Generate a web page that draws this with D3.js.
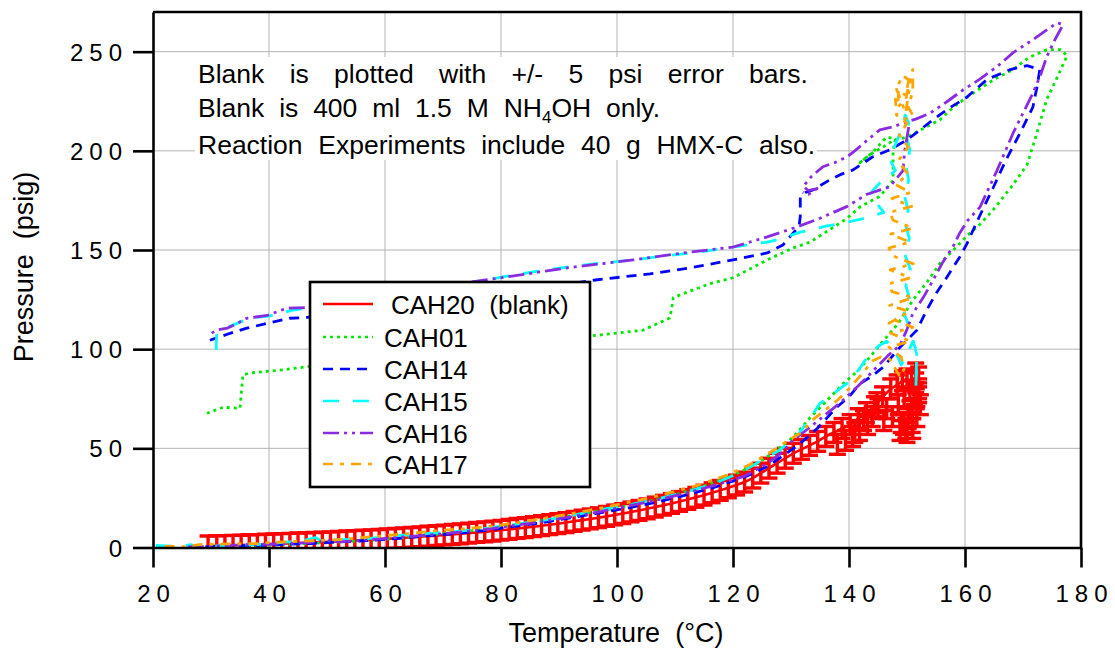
<!DOCTYPE html>
<html><head><meta charset="utf-8">
<script src="https://cdn.jsdelivr.net/npm/d3@7"></script>
<style>
body{margin:0;background:#fff}
svg{display:block}
text{font-family:"Liberation Sans",Arial,Helvetica,sans-serif;fill:#000}
</style>
</head><body>
<svg id="chart" width="1115" height="653"></svg>
<script>
// ---------- data ----------
const xTicks = [20, 40, 60, 80, 100, 120, 140, 160, 180];
const yTicks = [0, 50, 100, 150, 200, 250];
const xGrid = [40, 60, 80, 100, 120, 140, 160];
const yGrid = [50, 100, 150, 200, 250];
const seriesNames = ["CAH20  (blank)", "CAH01", "CAH14", "CAH15", "CAH16", "CAH17"];
const seriesColors = ["#ff0000", "#00e600", "#0000ff", "#00ffff", "#8a2be2", "#ffa500"];
const notes = [
  "Blank is plotted with +/- 5 psi error bars.",
  "Blank is 400 ml 1.5 M NH|4|OH only.",
  "Reaction Experiments include 40 g HMX-C also."
];
const blankError = 5;

// CAH20 blank (temperature °C, pressure psig)
const blankT = [29.5,31,32.4,33.8,35.2,36.6,38,39.4,40.8,42.2,43.6,45,46.4,47.8,49.2,50.6,52,53.4,54.8,56.2,
  57.6,59,60.4,61.8,63.2,64.6,66,67.4,68.8,70.2,71.6,73,74.4,75.8,77.2,78.6,80,81.4,82.8,84.2,
  85.6,87,88.4,89.8,91.2,92.6,94,95.4,96.8,98.2,99.6,101,102.4,103.8,105.2,106.6,108,109.4,110.8,112.2,
  113.6,115,116.4,117.8,119.2,120.6,122,123.4,124.8,126.2,127.6,129,130.4,131.8,133.2,134.6,136,137.4,138.8,140.2,
  141.6,143,144.4,145.8,147.2,148.3,149.2,150,150.8,151.5,152,151.6,150.9,150.2,149.4,148.8,149.8,150.9,151.7,152.3,
  151.3,139.4,140.6,141.8,143.2,138,141,142.5,144,145,146,146.5,147.5,148.5,149.5,150.5,151.5,152,151,150,149,152,144.8];
const blankP = [0.8,0.9,1.0,1.1,1.2,1.4,1.5,1.7,1.8,2.0,2.1,2.3,2.4,2.6,2.7,2.9,3.1,3.3,3.5,3.7,
  3.9,4.1,4.4,4.6,4.9,5.1,5.4,5.7,6.0,6.3,6.6,6.9,7.2,7.6,7.9,8.3,8.7,9.1,9.6,10,
  10.5,11,11.5,12,12.6,13.2,13.8,14.4,15,15.7,16.4,17.1,17.9,18.7,19.5,20.4,21.3,22.2,23.2,24.2,
  25.3,26.4,27.6,28.8,30.1,31.5,33,35,37.5,40,42.5,45,47.5,49.5,51.5,53.5,56,58,60,62,
  65,68,71,76,80,82,84,85,84,83,80,75,70,65,62,59,60,63,66,72,
  77,54,56,59,62,52,58,64,66,70,64,70,66,72,76,79,88,86,60,58,63,78,73];

// CAH01 (green dotted)
const cah01 = [[35,0.3],[40,1.2],[45,1.8],[50,2.5],[55,3.2],[60,4.2],[65,5.5],[70,7],[75,8.5],[80,10.5],
  [85,12.5],[90,15],[95,17.5],[100,20],[105,23],[110,26.5],[115,31],[120,36.5],[124,42],[127.5,49],
  [130.5,56],[133.3,65.5],[136,73.5],[139,82.6],[141.5,89],[143.6,96],[146,104.5],[148.5,113],[151,124.7],[153.5,134],
  [155.7,143.4],[158,150],[160.3,157],[162.6,163],[164.8,170],[168.3,183],[170.7,193],[172.4,209],[174.1,226],[175.9,237],
  [177.6,248],[176.5,251],[174.1,251],[171,247],[168.3,241],[165,236],[160.3,227],[158,222],[155.7,215.7],[152,210],
  [150,207],[147.5,205],[145.9,202],[143.5,198],[141.9,194],[144,199],[146.5,207],[148,206],[147.6,200],[147.6,185],
  [145.3,177],[142,172],[139.7,166],[136,159],[133.3,154],[130.3,151],[125.9,145],[120,136],[116,133],[111.4,128],
  [109.7,126],[109.4,120],[109.1,115.7],[104.5,109.6],[96.6,107],[85,104],[70,99],[58,95],[46.2,91],[41.9,89.4],
  [36.7,88],[35.5,87],[35,70.2],[32.1,70.7],[29.3,67.7]];

// CAH14 (blue dashed)
const cah14 = [[29,0.3],[33,0.8],[38,1],[42,1.5],[47,2],[52,2.8],[57,3.5],[62,4.5],[67,5.8],[72,7],
  [77,8.5],[82,10.5],[87,12.5],[92,15],[97,17.5],[102,20],[107,23],[112,26.5],[117,30.5],[122,35.5],
  [126,41],[129,47],[131.6,52.5],[134.5,60],[137.9,70.7],[140,76],[141.9,82.6],[144,86.5],[145.9,91],[148.8,101],
  [150.5,106],[151.7,109.6],[153.4,119.7],[155,128],[156.9,136.4],[159.1,146.5],[160.3,153],[162.5,167],[164.8,181],[167,195],
  [169.5,209],[171.7,222],[172.4,232],[172.9,241],[170.7,243],[167.8,241],[163.8,236],[160.3,227],[157,221],[154.5,215.7],
  [152,210],[150,205.6],[147,200.5],[144.1,197],[140.7,190.4],[138.5,188],[136.7,185.4],[133.8,180.3],[132.5,179],[131.6,177],
  [131.6,167],[131.4,162],[129.8,156.6],[128.6,152.5],[125.9,148.5],[120,145],[112.6,141],[105.7,138],[96.6,135],[85,130],
  [70,125],[55,119],[46.6,116],[43.6,115.6],[39.7,113],[36.2,110.6],[33.3,108],[29.8,104.5]];

// CAH15 (cyan long dash)
const cah15 = [[20.5,1],[22,0.8],[25,0.5],[26.5,1.5],[27.5,0.5],[30,0.7],[34,1.2],[38,1.5],[42,2.5],[46,3.5],
  [48,5],[49,3.5],[53,4],[57,4.5],[62,6],[67,7],[72,8],[77,9.5],[82,11.5],[87,13.5],
  [92,16],[97,19],[102,21.5],[107,24.5],[112,28],[117,32.5],[121,37.5],[125,44],[128,49],[131,56],
  [133,64],[135,72.7],[137.5,78],[140.2,84],[142,91],[143.6,98],[145.3,102],[146.5,104],[148,99],[149,92],
  [150,97],[151,104],[151.7,99],[151.5,80],[151.8,96],[151,105],[150.3,112],[149.5,118],[150.5,125],[149.8,132],
  [150.6,140],[149.6,148],[150.4,156],[149.7,163],[150.2,170],[149.5,178],[150.3,185],[149.8,193],[150.5,200],[149.9,208],
  [150.3,214],[149.7,218],[148.8,209],[147,196],[148,190],[145.7,185],[143.5,178],[146,169],[144,167],[139.7,164],
  [136,162],[133.3,160],[131.6,159],[128,155.5],[125.9,154],[120,151.5],[114.3,149],[108,147],[102.8,145],[94.1,142.4],
  [85.5,139],[80.3,136.4],[70,131],[60,126],[50,122],[44.1,119.7],[40.7,117],[36.7,115.6],[32.8,111],[31,108],
  [30.9,103],[30.9,96]];

// CAH16 (purple dash-dot-dot), null = gap
const cah16 = [[26,0.3],[30,0.5],[34,1.2],[38,1.5],[42,1.8],[47,2.5],[50,3.5],[52,2.8],[57,3.8],[62,5],
  [67,6.2],[72,7.5],[77,9],[82,11],[87,13],[92,15.5],[97,18],[102,21],[107,24],[112,27.5],
  [117,31.5],[122,36],[126,42.5],[128.5,48],[130.3,54],[133,60],[136.2,67.6],[138.5,73],[140.7,79],[142.8,85],
  [144.8,91],[146.8,97],[148.8,102],[150,110],[151,118],[152.8,126],[154.5,134.8],[156.2,144],[157.9,151.5],[159.1,158.6],
  [160.5,165],[162.6,171.7],[165.5,190],[168.3,209],[170,219],[171.7,229],[173,238],[174.1,247.5],[175.5,256],[176.9,263.6],
  [175.9,264.6],[174.1,261],[171.7,256],[168.3,249.5],[165.5,242.4],[162.5,236],[159.7,230.8],[157,225],[154,219],[151.5,216],
  [149.3,214],[147.5,212],[145.3,210.6],[143,205],[141,200],[139.7,197],[137.5,194],[135.5,192],[133.5,187],[132.1,182],
  [133,180],[134.5,181],[133,178],[132,179],null,
  [150.3,212],[149.6,200],[149.3,190],[147,181.8],[143,178],[139.7,172],[135,166],[131,161.6],[125.9,156.6],[120,151.5],
  [111.4,148.5],[102.8,145],[91.4,141],[81,136.4],[70,132],[60,128],[50,123],[46.6,121],[43.1,120.7],[39.7,117],
  [36.2,115.6],[34.5,113],[32.8,110.6],[31,109.6],[29.5,107]];

// CAH17 (orange dash-dot)
const cah17 = [[22,0.5],[24,0.5],[25.5,0.3],[28,1.5],[33,1.8],[38,2],[40,2.5],[44,3],[48,3.5],[52,4],
  [56,5],[60,6],[64,7],[69,8.5],[74,9.5],[79,11],[84,13],[89,15.5],[94,18],[99,21],
  [104,24],[109,27.5],[114,31.5],[119,36.5],[123,42],[127,49],[129.5,54],[131.6,57.6],[134,65],[137.9,74],
  [140,80],[142.4,88],[144,94],[145.5,96],[147,95],[148.2,89],[148.8,86],[149.5,90],[149,96],[146.9,101],
  [150.6,104],[147.2,108],[151,111],[147.6,115],[146.9,113],[150.4,119],[147,122],[151,126],[147.4,129],[146.9,133],
  [150.6,136],[147.1,140],[151.1,143],[147.6,147],[146.9,151],[150.5,154],[147.2,158],[151,161],[147.6,165],[147,169],
  [150.8,172],[147.4,176],[150.6,179],[148,183],[150.2,188],[148.5,195],[150.2,202],[148.7,208],[150,214],[148.2,218],
  [148,226],[149.4,222],[148.2,231],[149.8,228],[150.3,236],[151,241],[151,230],[150.2,222],[151,218],[149.6,216],
  [150.6,235],[149.3,238],[148.6,234],[148.4,222],[149.8,226],[150.8,240]];

const lineSeries = [cah01, cah14, cah15, cah16, cah17];
const lineDashes = ["3,4", "10,7", "16,14", "16,5,3,5,3,5", "10,7,4,7"];

// ---------- layout ----------
const svg = d3.select("#chart");
const x = d3.scaleLinear().domain([20, 180]).range([153, 1081]);
const y = d3.scaleLinear().domain([0, 270]).range([547.5, 12]);
const FONT = '"Liberation Sans",Arial,sans-serif';

// grid
const grid = svg.append("g").attr("stroke", "#b4b4b4").attr("stroke-width", 1);
grid.selectAll("line.gx").data(xGrid).join("line")
  .attr("x1", d => x(d)).attr("x2", d => x(d)).attr("y1", y(270)).attr("y2", y(0));
grid.selectAll("line.gy").data(yGrid).join("line")
  .attr("y1", d => y(d)).attr("y2", d => y(d)).attr("x1", x(20)).attr("x2", x(180));

// white box behind the notes
svg.append("rect").attr("x", 195).attr("y", 57).attr("width", 622).attr("height", 103).attr("fill", "#fff");

// clip
svg.append("defs").append("clipPath").attr("id", "plotclip").append("rect")
  .attr("x", x(20)).attr("y", y(270)).attr("width", x(180) - x(20)).attr("height", y(0) - y(270));
const plot = svg.append("g").attr("clip-path", "url(#plotclip)");

// blank with error bars
const blank = blankT.map((t, i) => ({t, p: blankP[i]}));
const eb = plot.append("g").attr("stroke", seriesColors[0]).attr("stroke-width", 3.4).attr("fill", "none");
const capW = 8.5;
blank.forEach(d => {
  const cx = x(d.t), yt = y(d.p + blankError), yb = y(d.p - blankError);
  eb.append("line").attr("x1", cx).attr("x2", cx).attr("y1", yt).attr("y2", yb);
  eb.append("line").attr("x1", cx - capW).attr("x2", cx + capW).attr("y1", yt).attr("y2", yt);
  eb.append("line").attr("x1", cx - capW).attr("x2", cx + capW).attr("y1", yb).attr("y2", yb);
});
eb.append("path").attr("stroke-width", 2.6).attr("d", d3.line().x(d => x(d.t)).y(d => y(d.p))(blank.slice(0, 95)));

// experiment lines
const line = d3.line().defined(d => d !== null).x(d => x(d[0])).y(d => y(d[1]));
lineSeries.forEach((s, i) => {
  plot.append("path").attr("d", line(s)).attr("fill", "none")
    .attr("stroke", seriesColors[i + 1]).attr("stroke-width", 2.8)
    .attr("stroke-dasharray", lineDashes[i]).attr("stroke-linejoin", "round");
});

// axes
const LS = 6;
const xAxis = svg.append("g").attr("transform", `translate(0,${y(0)})`)
  .call(d3.axisBottom(x).tickValues(xTicks).tickSize(20).tickSizeOuter(0).tickFormat(d3.format("d")));
xAxis.selectAll("text").attr("y", 54.5).attr("dy", 0).attr("dx", LS / 2)
  .style("font-size", "24px").style("letter-spacing", LS + "px").style("font-family", FONT);
const yAxis = svg.append("g").attr("transform", `translate(${x(20)},0)`)
  .call(d3.axisLeft(y).tickValues(yTicks).tickSize(20).tickSizeOuter(0).tickFormat(d3.format("d")));
yAxis.selectAll("text").attr("x", -31 + LS).attr("dy", "0.36em")
  .style("font-size", "24px").style("letter-spacing", LS + "px").style("font-family", FONT);
[xAxis, yAxis].forEach(a => {
  a.selectAll("line").attr("stroke", "#000").attr("stroke-width", 2.6);
  a.select(".domain").attr("stroke", "#000").attr("stroke-width", 2.6);
});
// top and right frame
svg.append("path").attr("d", `M${x(20)},${y(270)}H${x(180)}V${y(0)}`)
  .attr("fill", "none").attr("stroke", "#000").attr("stroke-width", 2.6);

// axis titles
svg.append("text").attr("x", 616).attr("y", 642).attr("text-anchor", "middle")
  .style("font-size", "27px").style("white-space", "pre").text("Temperature  (°C)");
svg.append("text").attr("transform", "translate(33,267) rotate(-90)").attr("text-anchor", "middle")
  .style("font-size", "27px").style("white-space", "pre").text("Pressure  (psig)");

// notes
const noteBase = [83, 117, 154];
const noteRight = [808, 660, 815];
notes.forEach((n, i) => {
  const t = svg.append("text").attr("x", 198).attr("y", noteBase[i]).style("font-size", "26.5px");
  const parts = n.split("|");
  parts.forEach((p, j) => {
    const ts = t.append("tspan").text(p);
    if (j === 1) ts.style("font-size", "17px").attr("dy", 6);
    if (j === 2) ts.attr("dy", -6);
  });
  const w = t.node().getComputedTextLength();
  const spaces = (n.match(/ /g) || []).length;
  const ws = Math.max(0, (noteRight[i] - 198 - w) / spaces);
  t.style("word-spacing", ws + "px");
});

// legend
const lg = svg.append("g");
lg.append("rect").attr("x", 310).attr("y", 282).attr("width", 280).attr("height", 205)
  .attr("fill", "#fff").attr("stroke", "#000").attr("stroke-width", 2.6);
const rowY = [304, 337, 369, 401, 433, 464];
const legendDash = ["none"].concat(lineDashes);
seriesNames.forEach((n, i) => {
  lg.append("line").attr("x1", 323).attr("x2", 373).attr("y1", rowY[i]).attr("y2", rowY[i])
    .attr("stroke", seriesColors[i]).attr("stroke-width", 2.6).attr("stroke-dasharray", legendDash[i]);
  lg.append("text").attr("x", i === 0 ? 391 : 384).attr("y", rowY[i] + 9.5)
    .style("font-size", "26px").style("white-space", "pre").text(n);
});
</script>
</body></html>
